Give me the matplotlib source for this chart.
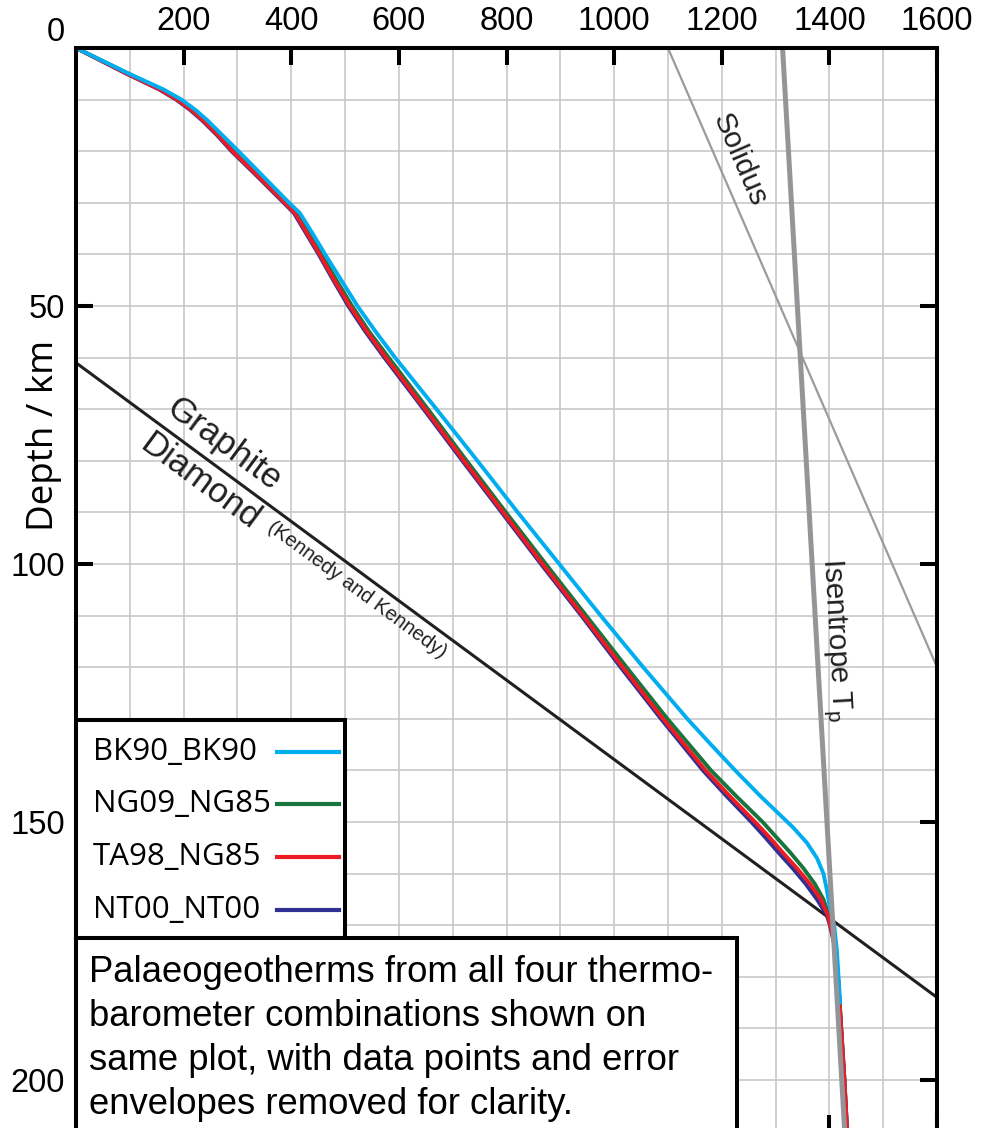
import matplotlib
matplotlib.use('Agg')
import matplotlib.pyplot as plt
from matplotlib.patches import Rectangle
import numpy as np

# geotherm depths (km) and temperatures (deg C)
depth = [0, 5, 8, 10, 12, 14, 17, 20, 25, 30, 32, 36, 40, 45, 50, 55, 60, 70,
         80, 90, 100, 110, 120, 130, 140, 145, 150, 153, 156, 159, 162, 165,
         168, 170, 175, 180, 190, 200, 210]
t_ng09 = [0, 98, 157, 190, 216, 238, 267, 293, 342, 390, 409, 433, 456, 484,
          513, 545, 581, 654, 726, 799, 873, 948, 1023, 1099, 1180, 1227, 1276,
          1302, 1328, 1352, 1373, 1389, 1399, 1403, 1412, 1416, 1422, 1428, 1433]
t_ta98 = [0, 95, 155, 188, 214, 236, 265, 291, 340, 388, 407, 430, 453, 480,
          509, 541, 576, 649, 721, 794, 867, 942, 1016, 1091, 1170, 1215, 1262,
          1289, 1314, 1340, 1364, 1384, 1397, 1402, 1412, 1416, 1422, 1428, 1433]
t_nt00 = [0, 94, 154, 186, 212, 234, 263, 289, 338, 386, 405, 428, 451, 478,
          506, 538, 573, 646, 718, 791, 864, 939, 1012, 1087, 1165, 1209, 1255,
          1281, 1306, 1332, 1356, 1377, 1395, 1401, 1412, 1416, 1422, 1428, 1433]
depth_bk90 = [0, 5, 8, 10, 12, 14, 17, 20, 25, 30, 32, 36, 40, 45, 50, 55, 60,
              70, 80, 90, 100, 110, 120, 130, 135, 140, 145, 148, 151, 154, 157,
              160, 163, 166, 170, 175, 180, 185]
t_bk90 = [0, 99, 162, 196, 222, 244, 273, 302, 349, 396, 416, 440, 463, 493,
          523, 557, 593, 670, 746, 821, 898, 975, 1054, 1136, 1180, 1225, 1272,
          1302, 1332, 1358, 1377, 1389, 1395, 1400, 1409, 1414, 1417, 1420]

# reference lines
gd_T = [0, 1600]
gd_z = [61, 184]
solidus_T = [1100, 1600]
solidus_z = [0, 120]
isentrope_T = [1313, 1428.5]
isentrope_z = [0, 210]

labels = ['BK90_BK90', 'NG09_NG85', 'TA98_NG85', 'NT00_NT00']
colors = ['#00aeef', '#17753d', '#ed1c24', '#2e3192']

note = ('Palaeogeotherms from all four thermo-\n'
        'barometer combinations shown on\n'
        'same plot, with data points and error\n'
        'envelopes removed for clarity.')

W, H = 983, 1128
fig = plt.figure(figsize=(W / 100, H / 100), dpi=100)
ax_l, ax_r, ax_t, ax_b = 76, 937, 48, 1131.6
ax = fig.add_axes([ax_l / W, 1 - ax_b / H, (ax_r - ax_l) / W, (ax_b - ax_t) / H])

ax.set_xlim(0, 1600)
ax.set_ylim(210, 0)

ax.set_xticks(range(200, 1601, 200))
ax.set_xticks(range(0, 1601, 100), minor=True)
ax.set_yticks([50, 100, 150, 200])
ax.set_yticks(range(0, 211, 10), minor=True)
ax.grid(which='both', color='#c8c8ca', lw=1.2)
ax.set_axisbelow(True)

ax.tick_params(which='major', direction='in', length=12, width=2.9,
               top=True, bottom=True, left=True, right=True,
               labeltop=True, labelbottom=False, pad=8,
               labelsize=23.5)
ax.tick_params(which='minor', length=0)
for lab in ax.get_xticklabels() + ax.get_yticklabels():
    lab.set_fontfamily('Liberation Sans')
for sp in ax.spines.values():
    sp.set_linewidth(2.9)
    sp.set_zorder(10)

ax.annotate('0', xy=(0, 0), xytext=(-20.5, 15.5), textcoords='offset pixels',
            ha='center', va='center', fontsize=23.5, family='Liberation Sans')

ax.set_ylabel('Depth / km', fontsize=26.5, family='Open Sans')
ax.yaxis.set_label_coords(-0.0163, 0.642)

ax.plot(gd_T, gd_z, color='#231f20', lw=2.2, zorder=2)
ax.plot(solidus_T, solidus_z, color='#9b9b9d', lw=1.6, zorder=2)

ax.plot(t_nt00, depth, color=colors[3], lw=2.8, zorder=3)
ax.plot(t_ta98, depth, color=colors[2], lw=2.8, zorder=3.1)
ax.plot(t_ng09, depth, color=colors[1], lw=2.8, zorder=2.9)
ax.plot(t_bk90, depth_bk90, color=colors[0], lw=2.8, zorder=3.2)

ax.plot(isentrope_T, isentrope_z, color='#939598', lw=3.6, zorder=4,
        solid_capstyle='butt')


def screen_angle(xs, ys):
    p = ax.transData.transform(np.column_stack([xs, ys]))
    d = p[1] - p[0]
    return np.degrees(np.arctan2(d[1], d[0]))


a_gd = screen_angle(gd_T, gd_z)
a_sol = screen_angle(solidus_T, solidus_z)
a_ise = screen_angle(isentrope_T, isentrope_z)

txt = dict(ha='center', va='center', rotation_mode='anchor',
           family='Liberation Sans', color='#231f20', zorder=5)
ax.text(275, 76.9, 'Graphite', rotation=a_gd, fontsize=25, **txt)
ax.text(230, 84.1, 'Diamond', rotation=a_gd, fontsize=25, **txt)
ax.text(522, 105, '(Kennedy and Kennedy)', rotation=a_gd, fontsize=14.5, **txt)
ax.text(1233, 21.7, 'Solidus', rotation=a_sol, fontsize=21.5, **txt)
ax.text(1409, 114.7, r'Isentrope T$_\mathregular{p}$', rotation=a_ise,
        fontsize=21.5, **txt)


def fx(px):
    return (px - ax_l) / (ax_r - ax_l)


def fy(py):
    return 1 - (py - ax_t) / (ax_b - ax_t)


# legend box
ax.add_patch(Rectangle((fx(76), fy(938)), fx(345) - fx(76), fy(720) - fy(938),
                       transform=ax.transAxes, facecolor='white',
                       edgecolor='black', lw=2.9, zorder=8, clip_on=False))
rows = [752, 804, 857, 910]
for lab, col, py in zip(labels, colors, rows):
    ax.text(fx(93), fy(py), lab, transform=ax.transAxes, ha='left',
            va='center', fontsize=22.5, family='Open Sans', zorder=9)
    ax.plot([fx(277), fx(339)], [fy(py), fy(py)], transform=ax.transAxes,
            color=col, lw=3, zorder=9, clip_on=False)

# note box
ax.add_patch(Rectangle((fx(76), fy(1160)), fx(737) - fx(76), fy(938) - fy(1160),
                       transform=ax.transAxes, facecolor='white',
                       edgecolor='black', lw=2.9, zorder=8, clip_on=False))
ax.text(fx(89), fy(955), note, transform=ax.transAxes, ha='left', va='top',
        fontsize=26.3, family='Liberation Sans', linespacing=1.33, zorder=9)

fig.savefig('out.png', dpi=100)
